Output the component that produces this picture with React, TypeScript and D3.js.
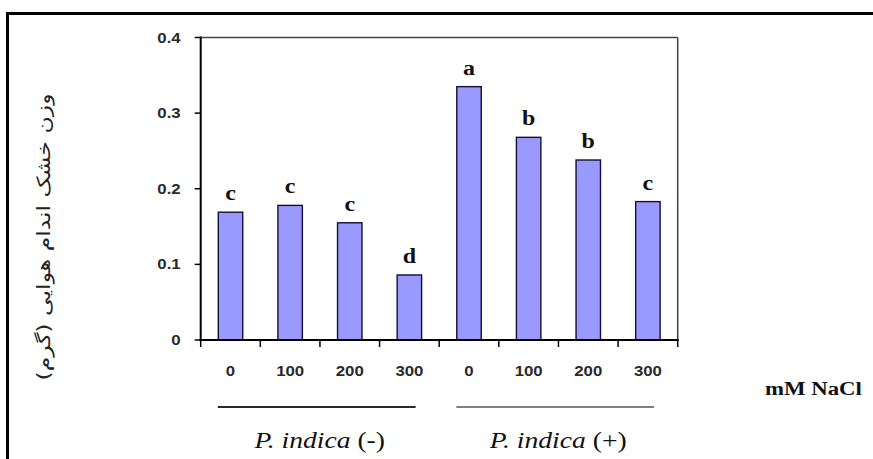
import * as d3 from "d3";

const W = 873;
const H = 459;

const doses = ["0", "100", "200", "300", "0", "100", "200", "300"];
const dryWeight = [0.169, 0.178, 0.155, 0.086, 0.335, 0.268, 0.238, 0.183];
const letters = ["c", "c", "c", "d", "a", "b", "b", "c"];
const yTicks = [0, 0.1, 0.2, 0.3, 0.4];
const yTickLabels = ["0", "0.1", "0.2", "0.3", "0.4"];
const groups = [
  { name: "P. indica", sign: "(-)", from: 0, to: 3, color: "#2a2a2a" },
  { name: "P. indica", sign: "(+)", from: 4, to: 7, color: "#808080" },
];
const yTitle = "وزن خشک اندام هوایی (گرم)";
const xTitle = "mM NaCl";

const SERIF = "Liberation Serif";
const SANS = "Liberation Sans";

export default function App() {
  const plot = { left: 200.7, right: 677.7, top: 37.5, bottom: 340 };
  const idx = doses.map((_, i) => i);

  const cat = d3.scaleBand<number>().domain(idx).range([plot.left, plot.right]);
  const bar = d3
    .scaleBand<number>()
    .domain(idx)
    .range([plot.left, plot.right])
    .paddingInner(0.59)
    .paddingOuter(0.295);
  const y = d3.scaleLinear().domain([0, 0.4]).range([plot.bottom, plot.top]);

  const step = cat.step();
  const boundaries = d3.range(doses.length + 1).map((i) => plot.left + i * step);

  // source image is widened horizontally
  const sx = 1.2;

  return (
    <svg
      width={W}
      height={H}
      style={{ position: "absolute", left: 0, top: 0, background: "#fff" }}
    >
      {/* outer frame */}
      <line x1={7.5} x2={W} y1={13.5} y2={13.5} stroke="#000" strokeWidth={3} />
      <line x1={7.5} x2={7.5} y1={12} y2={H} stroke="#000" strokeWidth={3} />

      {/* plot box top + right */}
      <line x1={plot.left} x2={plot.right} y1={plot.top} y2={plot.top} stroke="#444" strokeWidth={1.5} />
      <line x1={plot.right} x2={plot.right} y1={plot.top} y2={plot.bottom} stroke="#444" strokeWidth={1.5} />

      {/* bars */}
      {dryWeight.map((v, i) => (
        <rect
          key={"b" + i}
          x={bar(i)}
          y={y(v)}
          width={bar.bandwidth()}
          height={y(0) - y(v)}
          fill="#9999ff"
          stroke="#111133"
          strokeWidth={1.4}
        />
      ))}

      {/* significance letters */}
      {letters.map((l, i) => {
        const cx = (bar(i) as number) + bar.bandwidth() / 2;
        return (
          <text
            key={"l" + i}
            transform={`translate(${cx},${y(dryWeight[i]) - 12}) scale(${sx},1)`}
            textAnchor="middle"
            fontFamily={SERIF}
            fontWeight="bold"
            fontSize={20}
            fill="#111"
          >
            {l}
          </text>
        );
      })}

      {/* y axis */}
      <line x1={plot.left} x2={plot.left} y1={plot.top - 1} y2={plot.bottom + 1} stroke="#000" strokeWidth={2} />
      {yTicks.map((t, i) => (
        <g key={"y" + i}>
          <line x1={plot.left - 6} x2={plot.left} y1={y(t)} y2={y(t)} stroke="#000" strokeWidth={1.5} />
          <text
            transform={`translate(${plot.left - 20},${y(t) + 5}) scale(${sx},1)`}
            textAnchor="end"
            fontFamily={SANS}
            fontWeight="bold"
            fontSize={14}
            fill="#2a2a2a"
          >
            {yTickLabels[i]}
          </text>
        </g>
      ))}

      {/* x axis */}
      <line x1={plot.left - 1} x2={plot.right + 1} y1={plot.bottom} y2={plot.bottom} stroke="#000" strokeWidth={2} />
      {boundaries.map((bx, i) => (
        <line key={"t" + i} x1={bx} x2={bx} y1={plot.bottom} y2={plot.bottom + 7} stroke="#000" strokeWidth={1.5} />
      ))}
      {doses.map((d, i) => (
        <text
          key={"x" + i}
          transform={`translate(${(cat(i) as number) + step / 2},${y(0) + 36}) scale(${sx},1)`}
          textAnchor="middle"
          fontFamily={SANS}
          fontWeight="bold"
          fontSize={14}
          fill="#2a2a2a"
        >
          {d}
        </text>
      ))}

      {/* group underlines + labels */}
      {groups.map((g, i) => {
        const x1 = (bar(g.from) as number) - 0.5;
        const x2 = (bar(g.to) as number) + bar.bandwidth() - 6;
        const cx = (x1 + x2) / 2 + 3;
        return (
          <g key={"g" + i}>
            <line x1={x1} x2={x2} y1={407} y2={407} stroke={g.color} strokeWidth={2} />
            <text
              transform={`translate(${cx},448) scale(${sx},1)`}
              textAnchor="middle"
              fontFamily={SERIF}
              fontSize={23}
              fill="#111"
            >
              <tspan fontStyle="italic">{g.name}</tspan> {g.sign}
            </text>
          </g>
        );
      })}

      {/* x title */}
      <text
        transform={`translate(765,395) scale(${sx},1)`}
        fontFamily={SERIF}
        fontWeight="bold"
        fontSize={19}
        fill="#111"
      >
        {xTitle}
      </text>

      {/* y title (Persian) */}
      <text
        transform={`translate(50,237) rotate(-90)`}
        textAnchor="middle"
        direction="rtl"
        fontFamily="DejaVu Sans"
        fontSize={18}
        fill="#222"
        textLength={287}
        lengthAdjust="spacingAndGlyphs"
      >
        {yTitle}
      </text>
    </svg>
  );
}
